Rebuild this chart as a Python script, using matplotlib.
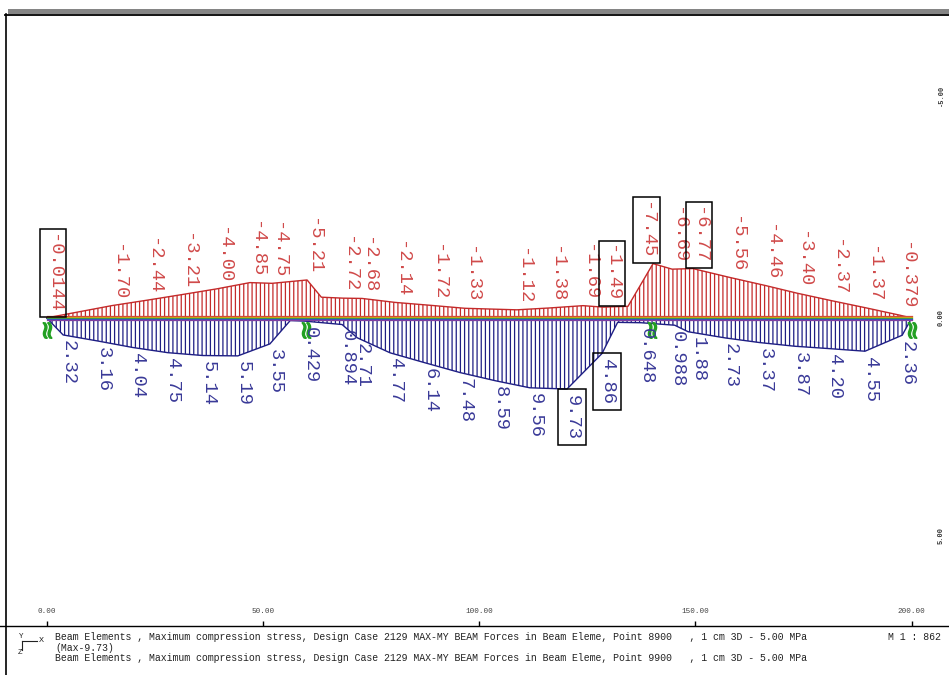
import matplotlib
matplotlib.use("Agg")
import matplotlib.pyplot as plt
from matplotlib.patches import Rectangle
from matplotlib.lines import Line2D
from matplotlib.markers import MarkerStyle
from matplotlib.transforms import Affine2D

# ---------------- data ----------------
# stresses along the beam [MPa], stations in beam coordinates
red_x = [0.0, 15.1, 23.2, 31.3, 39.4, 47.0, 52.1, 60.2, 68.5, 72.9, 80.5, 89.1,
         96.7, 108.7, 116.4, 124.0, 128.6, 140.2, 144.6, 149.4, 157.9, 166.1,
         173.5, 181.5, 189.6, 197.3]
red_vals = [-0.0144, -1.70, -2.44, -3.21, -4.00, -4.85, -4.75, -5.21, -2.72, -2.68,
            -2.14, -1.72, -1.33, -1.12, -1.38, -1.69, -1.49, -7.45, -6.69, -6.77,
            -5.56, -4.46, -3.40, -2.37, -1.37, -0.379]
red_labels = ["-0.0144", "-1.70", "-2.44", "-3.21", "-4.00", "-4.85", "-4.75",
              "-5.21", "-2.72", "-2.68", "-2.14", "-1.72", "-1.33", "-1.12",
              "-1.38", "-1.69", "-1.49", "-7.45", "-6.69", "-6.77", "-5.56",
              "-4.46", "-3.40", "-2.37", "-1.37", "-0.379"]
# additional break points of the upper-fibre diagram
red_shape_x = [63.5, 134.4, 200.0]
red_shape_v = [-2.85, -1.60, 0.0]

blue_x = [3.8, 11.9, 19.9, 28.0, 36.1, 44.2, 51.6, 59.7, 68.3, 71.8, 79.4, 87.5,
          95.6, 103.7, 111.7, 120.3, 128.4, 137.4, 145.2, 148.3, 156.9, 164.9,
          173.0, 181.1, 189.2, 197.8]
blue_vals = [2.32, 3.16, 4.04, 4.75, 5.14, 5.19, 3.55, 0.429, 0.894, 2.71, 4.77,
             6.14, 7.48, 8.59, 9.56, 9.73, 4.86, 0.648, 0.988, 1.88, 2.73, 3.37,
             3.87, 4.20, 4.55, 2.36]
blue_labels = ["2.32", "3.16", "4.04", "4.75", "5.14", "5.19", "3.55", "0.429",
               "0.894", "2.71", "4.77", "6.14", "7.48", "8.59", "9.56", "9.73",
               "4.86", "0.648", "0.988", "1.88", "2.73", "3.37", "3.87", "4.20",
               "4.55", "2.36"]
# additional break points of the lower-fibre diagram
blue_shape_x = [0.0, 56.3, 132.0, 200.0]
blue_shape_v = [0.0, 0.35, 0.60, 0.0]

supports_x = [0.0, 60.0, 140.0, 200.0]
ruler_ticks = [0, 50, 100, 150, 200]
side_labels = ["-5.00", "0.00", "5.00"]
side_label_rows = [95, 318, 535]

boxed_red = ["-0.0144", "-1.49", "-7.45", "-6.77"]
boxed_blue = ["9.73", "4.86"]

footer_1 = ("Beam Elements , Maximum compression stress, Design Case 2129 MAX-MY "
            "BEAM Forces in Beam Eleme, Point 8900   , 1 cm 3D - 5.00 MPa")
footer_2 = "(Max-9.73)"
footer_3 = ("Beam Elements , Maximum compression stress, Design Case 2129 MAX-MY "
            "BEAM Forces in Beam Eleme, Point 9900   , 1 cm 3D - 5.00 MPa")
scale_text = "M 1 : 862"

# ---------------- layout ----------------
W, H = 949, 675
X0_PX, PX_PER_UNIT = 46.7, 4.325
BASE_PX, PX_PER_MPA = 318.0, 7.3

RED = "#c42a2a"
RED_TXT = "#d04a4a"
BLUE = "#1e1e84"
BLUE_TXT = "#3a3a98"
MONO = "Liberation Mono"


def fx(px):
    return px / W


def fy(py):
    return 1.0 - py / H


fig = plt.figure(figsize=(W / 100, H / 100), dpi=100)
fig.patch.set_facecolor("white")

ax = fig.add_axes([0, 0, 1, 1])
ax.set_axis_off()
ax.set_xlim(-X0_PX / PX_PER_UNIT, (W - X0_PX) / PX_PER_UNIT)
# positive stresses downward, compression upward
ax.set_ylim((H - BASE_PX) / PX_PER_MPA, -BASE_PX / PX_PER_MPA)

plt.rcParams["hatch.linewidth"] = 0.9

# upper fibre diagram
rp = sorted(zip(red_x + red_shape_x, red_vals + red_shape_v))
rx = [p[0] for p in rp]
rv = [p[1] for p in rp]
ax.fill_between(rx, 0, rv, facecolor="none", edgecolor=RED, hatch="||||",
                linewidth=1.0, zorder=3)

# lower fibre diagram
bp = sorted(zip(blue_x + blue_shape_x, blue_vals + blue_shape_v))
bx = [p[0] for p in bp]
bv = [p[1] for p in bp]
ax.fill_between(bx, 0, bv, facecolor="none", edgecolor=BLUE, hatch="||||",
                linewidth=1.0, zorder=3)

# beam axis lines
for off, col in [(-0.28, "#d04040"), (-0.14, "#e0a010"), (0.0, "#3ca03c"),
                 (0.14, "#3050c8"), (0.28, "#8040a0")]:
    ax.plot([0, 200], [off, off], color=col, lw=0.9, zorder=4)

# supports (spring symbols)
spring = MarkerStyle("$\\approx$", transform=Affine2D().rotate_deg(90))
ax.plot(supports_x, [1.6] * len(supports_x), linestyle="none", marker=spring,
        markersize=11, color="#22a022", zorder=5)

# value labels
red_nudge = {"-7.45": -3.0, "-1.49": 0.6}
blue_nudge = {"0.988": -0.5, "1.88": 1.2}
for x, v, s in zip(red_x, red_vals, red_labels):
    boxed = s in boxed_red
    ax.annotate(s, xy=(x + red_nudge.get(s, 0.0), v), xytext=(-1.5, 4.0),
                textcoords="offset points", rotation=-90, ha="left", va="bottom",
                family=MONO, fontsize=13.5, color=RED_TXT, zorder=6,
                bbox=dict(boxstyle="square,pad=0.25", fc="none", ec="black", lw=1.1)
                if boxed else None)

for x, v, s in zip(blue_x, blue_vals, blue_labels):
    boxed = s in boxed_blue
    ax.annotate(s, xy=(x + blue_nudge.get(s, 0.0), v), xytext=(-2.5, -4.0),
                textcoords="offset points", rotation=-90, ha="left", va="top",
                family=MONO, fontsize=13.5, color=BLUE_TXT, zorder=6,
                bbox=dict(boxstyle="square,pad=0.3", fc="none", ec="black", lw=1.1)
                if boxed else None)

# coordinate ruler along the bottom
ruler = fig.add_axes([0, 0, 1, fy(626)])
ruler.set_facecolor("none")
ruler.set_xlim(ax.get_xlim())
ruler.set_yticks([])
for side in ("left", "right", "bottom"):
    ruler.spines[side].set_visible(False)
ruler.spines["top"].set_linewidth(1.0)
ruler.xaxis.tick_top()
ruler.set_xticks(ruler_ticks)
ruler.set_xticklabels([f"{t:.2f}" for t in ruler_ticks], family=MONO,
                      fontsize=5.5, color="#444444")
ruler.tick_params(axis="x", direction="out", length=3.6, width=1.0, pad=4,
                  colors="black", labelcolor="#444444")

# window frame
fig.add_artist(Rectangle((fx(8), fy(14)), 1 - fx(8), 5 / H, transform=fig.transFigure,
                         facecolor="#858585", edgecolor="none"))
fig.add_artist(Line2D([fx(5), 1], [fy(14.5), fy(14.5)], transform=fig.transFigure,
                      color="black", lw=1.3))
fig.add_artist(Line2D([fx(5.5), fx(5.5)], [fy(14), 0], transform=fig.transFigure,
                      color="black", lw=1.2))

# vertical ruler marks at the right edge
for s, r in zip(side_labels, side_label_rows):
    fig.text(fx(941), fy(r), s, rotation=90, ha="center", va="center",
             family=MONO, fontsize=5, fontweight="bold", color="#333333")

# footer text
fig.text(fx(55), fy(636.7), footer_1, family=MONO, fontsize=7.15, color="#222222",
         va="center", ha="left")
fig.text(fx(55), fy(647.7), footer_2, family=MONO, fontsize=7.15, color="#222222",
         va="center", ha="left")
fig.text(fx(55), fy(658.3), footer_3, family=MONO, fontsize=7.15, color="#222222",
         va="center", ha="left")
fig.text(fx(888), fy(636.7), scale_text, family=MONO, fontsize=7.15, color="#222222",
         va="center", ha="left")

# axis symbol
fig.text(fx(21), fy(637), "Y", family=MONO, fontsize=5.5, ha="center", va="center",
         color="#222222")
fig.text(fx(41), fy(640), "X", family=MONO, fontsize=6, ha="center", va="center",
         color="#222222")
fig.text(fx(20), fy(653), "Z", family=MONO, fontsize=5.5, ha="center", va="center",
         color="#222222")
fig.add_artist(Line2D([fx(22), fx(37)], [fy(640.5), fy(640.5)],
                      transform=fig.transFigure, color="#222222", lw=0.8))
fig.add_artist(Line2D([fx(21.5), fx(21.5)], [fy(640.5), fy(650)],
                      transform=fig.transFigure, color="#222222", lw=0.8))

fig.savefig("out.png", dpi=100, facecolor="white")
